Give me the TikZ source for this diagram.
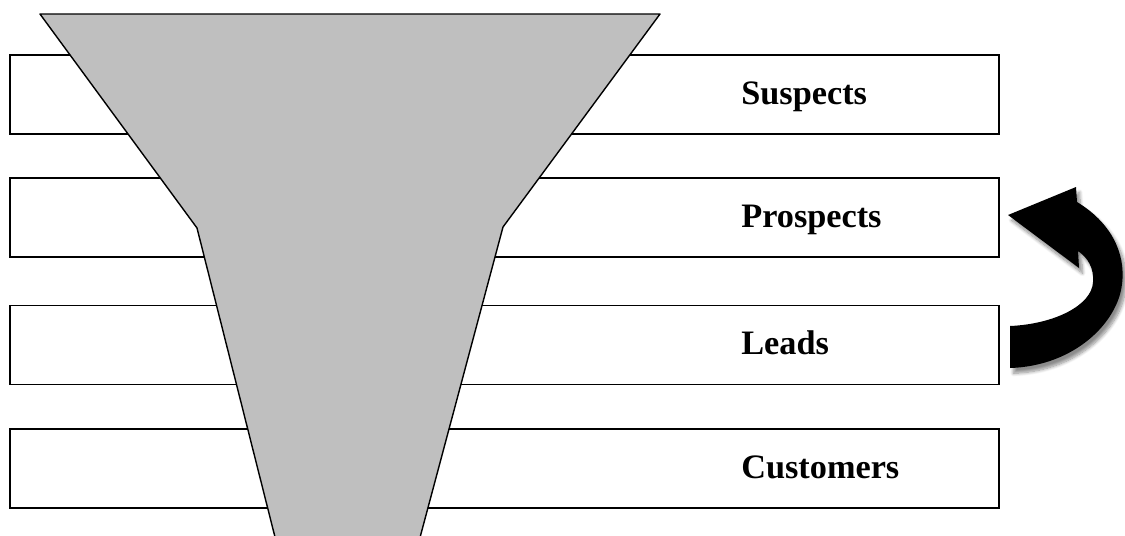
\documentclass[tikz,border=0pt]{standalone}
\usepackage{fontspec}
\setmainfont{Liberation Serif}
\usepackage{tikz}
\usetikzlibrary{shadows,shadows.blur}

\definecolor{funnelgray}{RGB}{191,191,191}

\tikzset{
  bar/.style = {draw, line width=0.8pt, rectangle, minimum width=19.78cm,
                minimum height=1.58cm, inner sep=0pt, outer sep=0pt},
  lbl/.style = {font=\bfseries\fontsize{19.5}{22}\selectfont, inner sep=0pt},
  funnel/.style = {fill=funnelgray, draw, line width=0.8pt, line join=round},
  turn/.style = {fill=black, blur shadow={shadow xshift=2pt, shadow yshift=-3pt,
                 shadow blur steps=8, shadow opacity=45}}
}

\begin{document}
\begin{tikzpicture}[x=0.02cm, y=-0.02cm]
	\clip (0,0) rectangle (1125,535);
	\foreach \yc/\name/\txt in {94.5/suspects/Suspects, 217.5/prospects/Prospects,
	                            345/leads/Leads, 468.5/customers/Customers}{
	    \node[bar] (\name) at (504.5,\yc) {};
	    \node[lbl, anchor=base west] (\name-txt) at (741,{\yc+9.5}) {\txt};
	}
	\coordinate (f_1) at (40,14);
	\coordinate (f_2) at (660,14);
	\coordinate (f_3) at (503,227);
	\coordinate (f_4) at (418,545);
	\coordinate (f_5) at (277,545);
	\coordinate (f_6) at (197,228);
	\draw[funnel] (f_1) -- (f_2) -- (f_3) -- (f_4) -- (f_5) -- (f_6) -- cycle;
	\fill[turn] (1008,215) -- (1076,187) -- (1077,202)
	    .. controls (1110,222) and (1126,252) .. (1122,284)
	    .. controls (1118,322) and (1075,366) .. (1010,368)
	    -- (1010,326)
	    .. controls (1055,324) and (1092,305) .. (1093,282)
	    .. controls (1094,268) and (1088,258) .. (1078,251)
	    -- (1079,268) -- cycle;
\end{tikzpicture}
\end{document}
